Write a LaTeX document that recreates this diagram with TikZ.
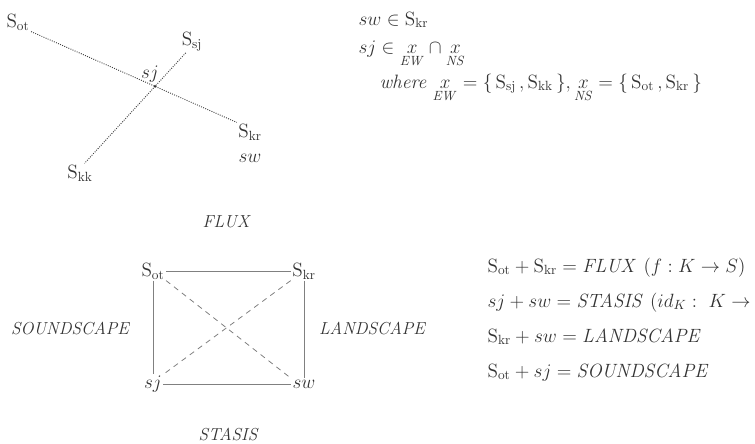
\documentclass[tikz,border=0pt]{standalone}
\usepackage{amsmath}
\usepackage{xcolor}
\usepackage{tikz}
\usetikzlibrary{positioning,intersections}

\newcommand{\Sx}[1]{\mathrm{S}_{\mathrm{#1}}}
\newcommand{\setx}[1]{\underset{\mathit{#1}}{x}}

\begin{document}
\begin{tikzpicture}[
  x=0.75pt,
  y=-0.75pt,
  txt/.style={text=black!80, font=\fontsize{14.5}{17}\selectfont, inner sep=1pt},
  caption/.style={txt, font=\fontsize{13}{16}\selectfont\itshape},
  eq/.style={txt, anchor=base west},
  dotline/.style={black!75, densely dotted, line width=0.7pt},
  sideline/.style={gray, line width=0.6pt},
  crossline/.style={gray, dash pattern=on 4pt off 3.5pt, line width=0.6pt}
]
  \useasboundingbox (0,0) rectangle (755,443);

  % the two crossing directions
  \node[txt] (Sot) at (18,22) {$\Sx{ot}$};
  \node[txt] (Ssj) at (192,42) {$\Sx{sj}$};
  \node[txt] (Skr) at (250,132) {$\Sx{kr}$};
  \node[txt] (Skk) at (80,173) {$\Sx{kk}$};
  \node[txt] (sj) at (150,74) {$sj$};
  \node[txt] (sw) at (250,158) {$sw$};

  \draw[dotline, name path=ns] (Sot.south east) -- (Skr.north west);
  \draw[dotline, name path=ew] (Ssj.240) -- (Skk.65);
  \fill[black!80, name intersections={of=ns and ew}] (intersection-1) circle (1.1pt);

  \node[eq] (memb) at (357,25) {$sw \in \Sx{kr}$};
  \node[eq] (meet) at (357,53) {$sj \in \setx{EW} \cap \setx{NS}$};
  \node[eq] (where) at (378,88) {\textit{where} $\setx{EW} = \{\,\Sx{sj}\,, \Sx{kk}\,\}, \setx{NS} = \{\,\Sx{ot}\,, \Sx{kr}\,\}$};

  \node[caption] (flux) at (226,222) {FLUX};

  % the square
  \node[txt] (Sot2) at (153,271) {$\Sx{ot}$};
  \node[txt] (Skr2) at (304,271) {$\Sx{kr}$};
  \node[txt] (sj2) at (153,384) {$sj$};
  \node[txt] (sw2) at (304,384) {$sw$};

  \draw[sideline] (Sot2) -- (Skr2);
  \draw[sideline] (sj2) -- (sw2);
  \draw[sideline] (Sot2.south) -- (sj2.north);
  \draw[sideline] (Skr2.south) -- (sw2.north);
  \draw[crossline] (Sot2.south east) -- (sw2.north west);
  \draw[crossline] (Skr2.south west) -- (sj2.north east);

  \node[caption] (sound) at (70,328) {SOUNDSCAPE};
  \node[caption] (land) at (372,328) {LANDSCAPE};
  \node[caption] (stasis) at (228,434) {STASIS};

  \node[eq] (eqflux) at (486,272) {$\Sx{ot} + \Sx{kr} = \mathit{FLUX}\ (f : K \rightarrow S)$};
  \node[eq] (eqstasis) at (486,307) {$sj + sw = \mathit{STASIS}\ (id_K :\ K \rightarrow K)$};
  \node[eq] (eqland) at (486,342) {$\Sx{kr} + sw = \mathit{LANDSCAPE}$};
  \node[eq] (eqsound) at (486,377) {$\Sx{ot} + sj = \mathit{SOUNDSCAPE}$};
\end{tikzpicture}
\end{document}
